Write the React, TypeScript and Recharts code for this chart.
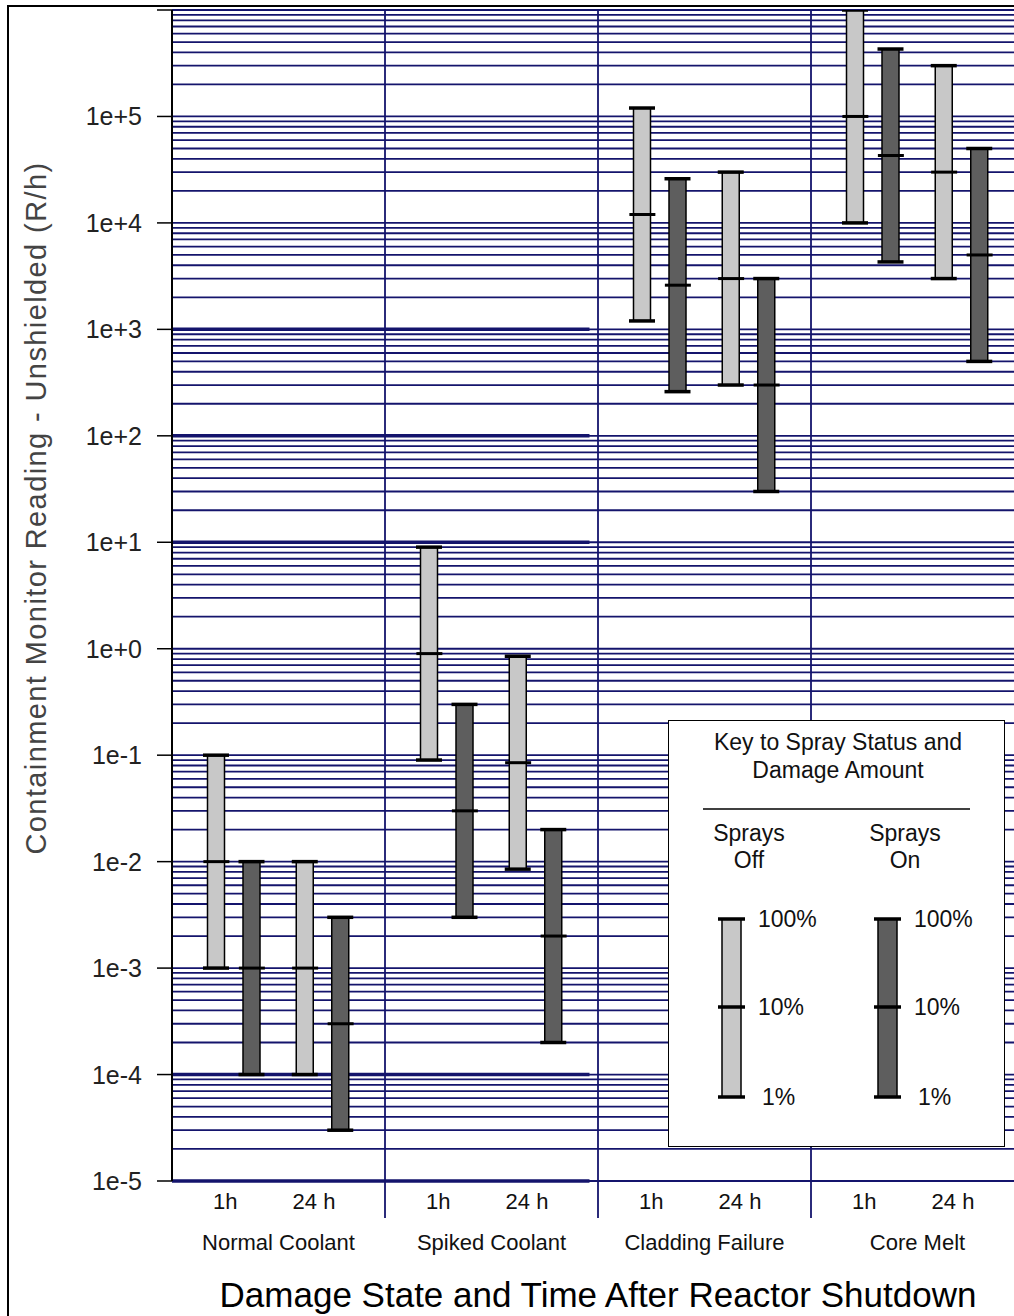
import React from "react";
import {
  ComposedChart,
  Bar,
  Scatter,
  XAxis,
  YAxis,
  CartesianGrid,
  ReferenceLine,
  Legend,
  Label,
} from "recharts";

// damage states (x groups) and times after shutdown
const damageStates = ["Normal Coolant", "Spiked Coolant", "Cladding Failure", "Core Melt"];
const times = ["1h", "24 h"];

// readings in R/h for [1%, 10%, 100%] damage, one entry per damage state
const spraysOff1h = [
  [1e-3, 1e-2, 1e-1],
  [0.09, 0.9, 9],
  [1200, 12000, 120000],
  [1e4, 1e5, 1e6],
];
const spraysOn1h = [
  [1e-4, 1e-3, 1e-2],
  [3e-3, 3e-2, 0.3],
  [260, 2600, 26000],
  [4300, 43000, 430000],
];
const spraysOff24h = [
  [1e-4, 1e-3, 1e-2],
  [0.0085, 0.085, 0.85],
  [300, 3000, 30000],
  [3000, 30000, 300000],
];
const spraysOn24h = [
  [3e-5, 3e-4, 3e-3],
  [2e-4, 2e-3, 2e-2],
  [30, 300, 3000],
  [500, 5000, 50000],
];

const yTicks = [1e-5, 1e-4, 1e-3, 1e-2, 1e-1, 1, 10, 100, 1000, 1e4, 1e5, 1e6];
const boldDecades = [1e-5, 1e-4, 10, 100, 1000];
const keyLevels = ["100%", "10%", "1%"];
const keyColumns = [
  { spray: "off", name: ["Sprays", "Off"] },
  { spray: "on", name: ["Sprays", "On"] },
];

const FONT = "'Liberation Sans', Arial, sans-serif";
const NAVY = "#14146c";
const LIGHT = "#c8c8c8";
const DARK = "#5e5e5e";

// each damage state is split into 12 equal slots; bars sit on some of them
const SLOTS = 12;
const series = [
  { spray: "off", time: 0, values: spraysOff1h, slot: 2 },
  { spray: "on", time: 0, values: spraysOn1h, slot: 4 },
  { spray: "off", time: 1, values: spraysOff24h, slot: 7 },
  { spray: "on", time: 1, values: spraysOn24h, slot: 9 },
];
const timeSlots = [3, 8];
const groupSlot = 6;

type Row = {
  slot: string;
  range?: number[];
  mid?: number;
  spray?: string;
  timeLabel?: string;
  groupLabel?: string;
};

const table: Row[] = [];
damageStates.forEach((state, g) => {
  for (let s = 0; s < SLOTS; s++) {
    const row: Row = { slot: `${g}-${s}` };
    const bar = series.find((b) => b.slot === s);
    if (bar) {
      const [low, mid, high] = bar.values[g];
      row.range = [low, high];
      row.mid = mid;
      row.spray = bar.spray;
    }
    const t = timeSlots.indexOf(s);
    if (t >= 0) row.timeLabel = times[t];
    if (s === groupSlot) row.groupLabel = state;
    table.push(row);
  }
});
const rowBySlot = new Map(table.map((r) => [r.slot, r]));

const gridValues: number[] = [];
for (let e = -5; e <= 5; e++) {
  for (let k = 1; k <= 9; k++) gridValues.push(k * Math.pow(10, e));
}
gridValues.push(1e6);

const fmtTick = (v: number) => {
  const e = Math.round(Math.log10(v));
  return e >= 0 ? `1e+${e}` : `1e${e}`;
};

const YTick = (props: any) => {
  const { x, y, payload } = props;
  if (payload.value >= 1e6) return <g />;
  return (
    <text x={x} y={y} textAnchor="end" dominantBaseline="central" fontSize={25} fill="#222" fontFamily={FONT}>
      {fmtTick(payload.value)}
    </text>
  );
};

const SlotTick = (props: any) => {
  const { x, y, payload } = props;
  const row = rowBySlot.get(payload.value);
  if (!row || (!row.timeLabel && !row.groupLabel)) return <g />;
  const lx = x - (payload.offset ?? 0);
  return (
    <g fontFamily={FONT} fill="#111">
      {row.timeLabel && (
        <text x={lx} y={y + 20} textAnchor="middle" dominantBaseline="central" fontSize={22}>
          {row.timeLabel}
        </text>
      )}
      {row.groupLabel && (
        <text x={lx} y={y + 61} textAnchor="middle" dominantBaseline="central" fontSize={22}>
          {row.groupLabel}
        </text>
      )}
    </g>
  );
};

const SprayBar = (props: any) => {
  const { x, y, width, height, payload } = props;
  if (!payload || !payload.range || !Number.isFinite(y) || !Number.isFinite(height)) return <g />;
  const cx = x + width / 2;
  return (
    <g>
      <rect x={x} y={y} width={width} height={height} fill={payload.spray === "off" ? LIGHT : DARK} stroke="#000" strokeWidth={1.5} />
      <line x1={cx - 13} x2={cx + 13} y1={y} y2={y} stroke="#000" strokeWidth={3.5} />
      <line x1={cx - 13} x2={cx + 13} y1={y + height} y2={y + height} stroke="#000" strokeWidth={3.5} />
    </g>
  );
};

const MidTick = (props: any) => {
  const { cx, cy, payload } = props;
  if (!payload || payload.mid == null || !Number.isFinite(cy)) return <g />;
  return <line x1={cx - 13} x2={cx + 13} y1={cy} y2={cy} stroke="#000" strokeWidth={3} />;
};

// heavier decade line over the left half of the plot
const BoldSegment = (props: any) => {
  const { x1, y1, x2 } = props;
  return <line x1={x1} x2={x1 + (x2 - x1) * 0.49} y1={y1} y2={y1} stroke={NAVY} strokeWidth={3.5} />;
};

// group separator, running down between the tick rows
const Separator = (props: any) => {
  const { x1, y1, x2, y2 } = props;
  const top = Math.min(y1, y2);
  const bottom = Math.max(y1, y2);
  return <line x1={x1} x2={x2} y1={top} y2={bottom + 37} stroke={NAVY} strokeWidth={1.8} />;
};

const SprayKey = () => {
  const barX = [54, 210];
  const textX = [90, 246];
  const levelY = [199, 287, 377];
  return (
    <div style={{ width: 337, height: 427, background: "#fff", border: "1.5px solid #000", boxSizing: "border-box" }}>
      <svg width={337} height={427} style={{ position: "absolute", left: 0, top: 0 }} fontFamily={FONT}>
        <text x={170} y={22} textAnchor="middle" dominantBaseline="central" fontSize={23} fill="#111">
          Key to Spray Status and
        </text>
        <text x={170} y={50} textAnchor="middle" dominantBaseline="central" fontSize={23} fill="#111">
          Damage Amount
        </text>
        <line x1={35} x2={302} y1={89} y2={89} stroke="#000" strokeWidth={1.5} />
        {keyColumns.map((col, i) => (
          <g key={col.spray}>
            <text x={barX[i] + 27} y={113} textAnchor="middle" dominantBaseline="central" fontSize={23} fill="#111">
              {col.name[0]}
            </text>
            <text x={barX[i] + 27} y={140} textAnchor="middle" dominantBaseline="central" fontSize={23} fill="#111">
              {col.name[1]}
            </text>
            <rect x={barX[i]} y={levelY[0]} width={19} height={levelY[2] - levelY[0]} fill={col.spray === "off" ? LIGHT : DARK} stroke="#000" strokeWidth={1.5} />
            {levelY.map((ly, j) => (
              <g key={j}>
                <line x1={barX[i] - 4} x2={barX[i] + 23} y1={ly} y2={ly} stroke="#000" strokeWidth={3.5} />
                <text x={textX[i] + (j === 2 ? 4 : 0)} y={ly} dominantBaseline="central" fontSize={23} fill="#111">
                  {keyLevels[j]}
                </text>
              </g>
            ))}
          </g>
        ))}
      </svg>
    </div>
  );
};

const YTitle = (props: any) => {
  const vb = props.viewBox;
  const cx = vb.x + 36;
  const cy = 508;
  return (
    <text
      x={cx}
      y={cy}
      transform={`rotate(-90, ${cx}, ${cy})`}
      textAnchor="middle"
      dominantBaseline="central"
      fontSize={29}
      letterSpacing={1.4}
      fill="#444"
      fontFamily={FONT}
    >
      Containment Monitor Reading - Unshielded (R/h)
    </text>
  );
};

export default function App() {
  return (
    <div style={{ position: "fixed", left: 0, top: 0, width: 1014, height: 1316, overflow: "hidden", background: "#fff" }}>
      <div style={{ position: "absolute", left: 7, top: 5, width: 1100, height: 1400, borderLeft: "2px solid #000", borderTop: "2px solid #000" }} />
      <div style={{ position: "absolute", left: 0, top: 0 }}>
        <ComposedChart
          width={1040}
          height={1316}
          data={table}
          margin={{ top: 10, right: 16, bottom: 0, left: 0 }}
          barGap={0}
          barCategoryGap={0}
        >
          <CartesianGrid horizontalValues={gridValues} vertical={false} stroke={NAVY} strokeWidth={1.8} />
          <XAxis
            dataKey="slot"
            type="category"
            height={135}
            interval={0}
            tickLine={false}
            axisLine={false}
            tickSize={0}
            tickMargin={0}
            tick={<SlotTick />}
          >
            <Label
              value="Damage State and Time After Reactor Shutdown"
              position="insideBottom"
              offset={9}
              style={{ fontSize: 35, fill: "#000", fontFamily: FONT }}
            />
          </XAxis>
          <YAxis
            scale="log"
            type="number"
            domain={[1e-5, 1e6]}
            allowDataOverflow
            ticks={yTicks}
            interval={0}
            width={172}
            tickSize={15}
            tickMargin={15}
            tick={<YTick />}
            axisLine={{ stroke: "#000", strokeWidth: 2 }}
            tickLine={{ stroke: "#000", strokeWidth: 1.5 }}
          >
            <Label content={<YTitle />} />
          </YAxis>
          {boldDecades.map((v) => (
            <ReferenceLine key={`b${v}`} y={v} shape={<BoldSegment />} zIndex={-50} />
          ))}
          {damageStates.slice(1).map((_, i) => (
            <ReferenceLine key={`s${i}`} x={`${i + 1}-0`} position="start" shape={<Separator />} zIndex={-50} />
          ))}
          <Bar dataKey="range" barSize={17} shape={<SprayBar />} isAnimationActive={false} />
          <Scatter dataKey="mid" shape={<MidTick />} isAnimationActive={false} />
          <Legend
            layout="horizontal"
            verticalAlign="middle"
            align="center"
            content={<SprayKey />}
            wrapperStyle={{ left: 668, top: 720, width: 337, height: 427, bottom: "auto", right: "auto" }}
          />
        </ComposedChart>
      </div>
    </div>
  );
}
